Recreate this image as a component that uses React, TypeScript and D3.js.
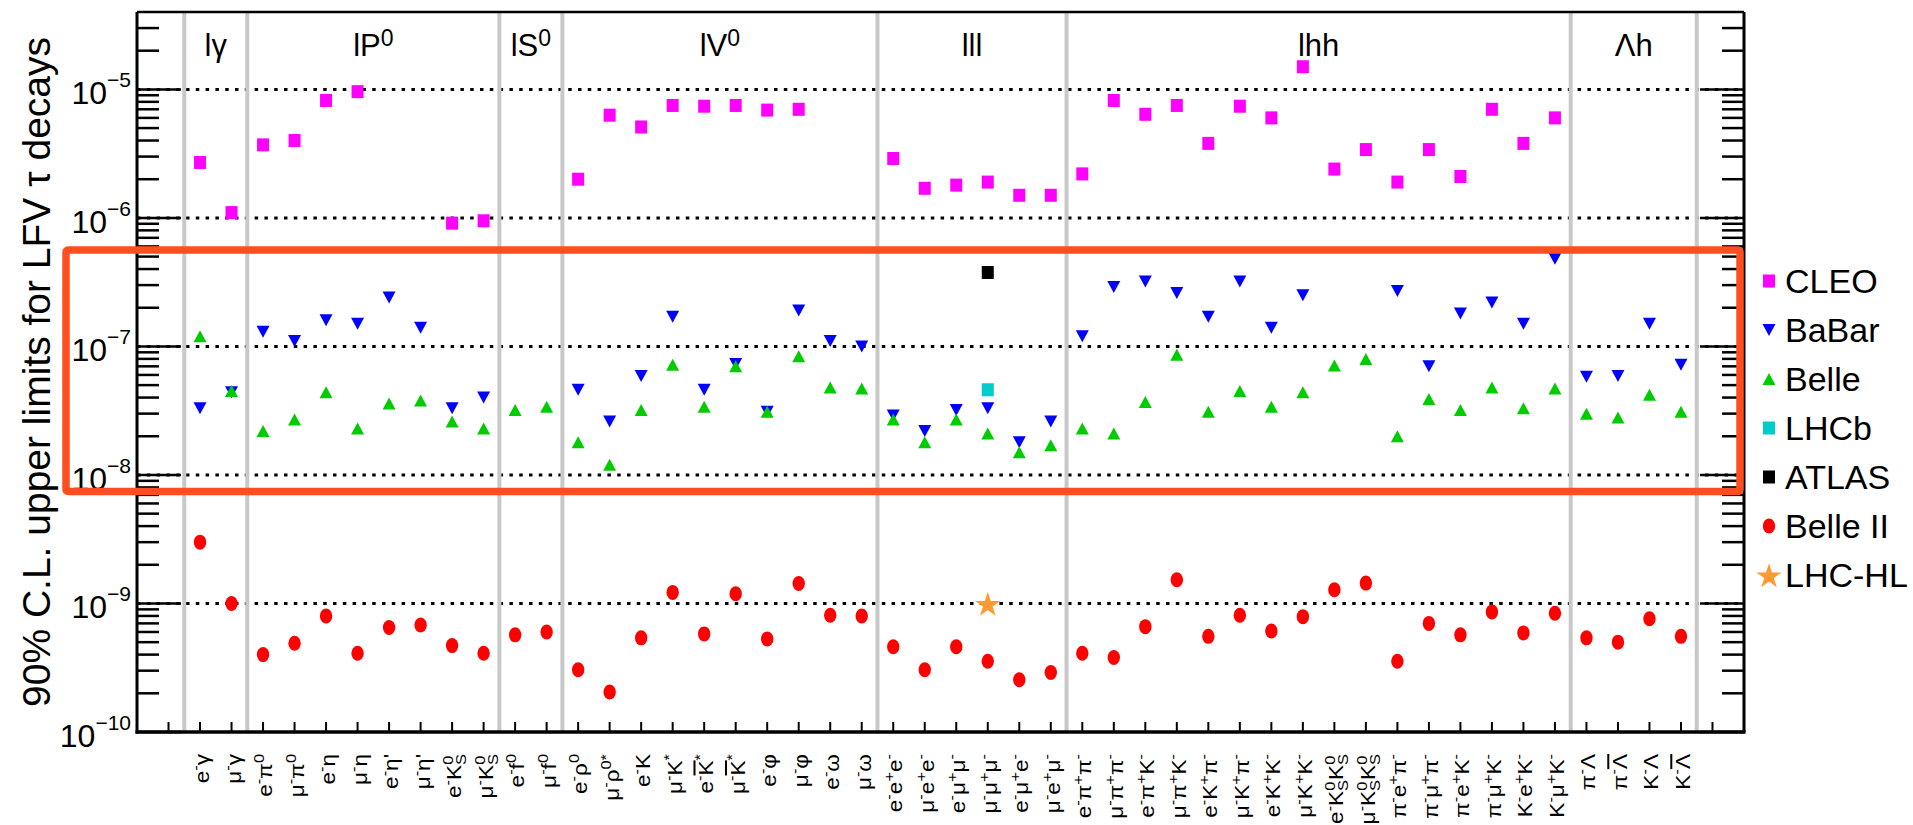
import React from 'react';
import * as d3 from 'd3';

// ---------- data ----------
const categories = [
  'e^{-}γ', 'μ^{-}γ',
  'e^{-}π^{0}', 'μ^{-}π^{0}', 'e^{-}η', 'μ^{-}η', "e^{-}η'", "μ^{-}η'", 'e^{-}K^{0}_{S}', 'μ^{-}K^{0}_{S}',
  'e^{-}f^{0}', 'μ^{-}f^{0}',
  'e^{-}ρ^{0}', 'μ^{-}ρ^{0*}', 'e^{-}K', 'μ^{-}K^{*}', 'e^{-}#bar{K}^{*}', 'μ^{-}#bar{K}^{*}', 'e^{-}φ', 'μ^{-}φ', 'e^{-}ω', 'μ^{-}ω',
  'e^{-}e^{+}e^{-}', 'μ^{-}e^{+}e^{-}', 'e^{-}μ^{+}μ^{-}', 'μ^{-}μ^{+}μ^{-}', 'e^{-}μ^{+}e^{-}', 'μ^{-}e^{+}μ^{-}',
  'e^{-}π^{+}π^{-}', 'μ^{-}π^{+}π^{-}', 'e^{-}π^{+}K^{-}', 'μ^{-}π^{+}K^{-}', 'e^{-}K^{+}π^{-}', 'μ^{-}K^{+}π^{-}',
  'e^{-}K^{+}K^{-}', 'μ^{-}K^{+}K^{-}', 'e^{-}K^{0}_{S}K^{0}_{S}', 'μ^{-}K^{0}_{S}K^{0}_{S}', 'π^{-}e^{+}π^{-}', 'π^{-}μ^{+}π^{-}',
  'π^{-}e^{+}K^{-}', 'π^{-}μ^{+}K^{-}', 'K^{-}e^{+}K^{-}', 'K^{-}μ^{+}K^{-}',
  'π^{-}Λ', 'π^{-}#bar{Λ}', 'K^{-}Λ', 'K^{-}#bar{Λ}',
];

const groupNames = ['lγ', 'lP^{0}', 'lS^{0}', 'lV^{0}', 'lll', 'lhh', 'Λh'];
const groupBounds = [1.5, 3.5, 11.5, 13.5, 23.5, 29.5, 45.5, 49.5];

const cleo = [
  2.7e-6, 1.1e-6,
  3.7e-6, 4.0e-6, 8.2e-6, 9.6e-6, null, null, 9.1e-7, 9.5e-7,
  null, null,
  2.0e-6, 6.3e-6, 5.1e-6, 7.5e-6, 7.4e-6, 7.5e-6, 6.9e-6, 7.0e-6, null, null,
  2.9e-6, 1.7e-6, 1.8e-6, 1.9e-6, 1.5e-6, 1.5e-6,
  2.2e-6, 8.2e-6, 6.4e-6, 7.5e-6, 3.8e-6, 7.4e-6, 6.0e-6, 1.5e-5, 2.4e-6, 3.4e-6, 1.9e-6, 3.4e-6, 2.1e-6, 7.0e-6, 3.8e-6, 6.0e-6,
  null, null, null, null,
];
const babar = [
  3.3e-8, 4.4e-8,
  1.3e-7, 1.1e-7, 1.6e-7, 1.5e-7, 2.4e-7, 1.4e-7, 3.3e-8, 4.0e-8,
  null, null,
  4.6e-8, 2.6e-8, 5.9e-8, 1.7e-7, 4.6e-8, 7.3e-8, 3.1e-8, 1.9e-7, 1.1e-7, 1.0e-7,
  2.9e-8, 2.2e-8, 3.2e-8, 3.3e-8, 1.8e-8, 2.6e-8,
  1.2e-7, 2.9e-7, 3.2e-7, 2.6e-7, 1.7e-7, 3.2e-7, 1.4e-7, 2.5e-7, null, null, 2.7e-7, 7.0e-8, 1.8e-7, 2.2e-7, 1.5e-7, 4.8e-7,
  5.8e-8, 5.9e-8, 1.5e-7, 7.2e-8,
];
const belle = [
  1.2e-7, 4.5e-8,
  2.2e-8, 2.7e-8, 4.4e-8, 2.3e-8, 3.6e-8, 3.8e-8, 2.6e-8, 2.3e-8,
  3.2e-8, 3.4e-8,
  1.8e-8, 1.2e-8, 3.2e-8, 7.2e-8, 3.4e-8, 7.0e-8, 3.1e-8, 8.4e-8, 4.8e-8, 4.7e-8,
  2.7e-8, 1.8e-8, 2.7e-8, 2.1e-8, 1.5e-8, 1.7e-8,
  2.3e-8, 2.1e-8, 3.7e-8, 8.6e-8, 3.1e-8, 4.5e-8, 3.4e-8, 4.4e-8, 7.1e-8, 8.0e-8, 2.0e-8, 3.9e-8, 3.2e-8, 4.8e-8, 3.3e-8, 4.7e-8,
  3.0e-8, 2.8e-8, 4.2e-8, 3.1e-8,
];
const lhcb = [
  null, null, null, null, null, null, null, null, null, null, null, null,
  null, null, null, null, null, null, null, null, null, null,
  null, null, null, 4.6e-8, null, null,
  null, null, null, null, null, null, null, null, null, null, null, null, null, null, null, null,
  null, null, null, null,
];
const atlas = [
  null, null, null, null, null, null, null, null, null, null, null, null,
  null, null, null, null, null, null, null, null, null, null,
  null, null, null, 3.76e-7, null, null,
  null, null, null, null, null, null, null, null, null, null, null, null, null, null, null, null,
  null, null, null, null,
];
const belle2 = [
  3.0e-9, 1.0e-9,
  4.0e-10, 4.9e-10, 8.0e-10, 4.1e-10, 6.5e-10, 6.8e-10, 4.7e-10, 4.1e-10,
  5.7e-10, 6.0e-10,
  3.05e-10, 2.05e-10, 5.4e-10, 1.22e-9, 5.8e-10, 1.19e-9, 5.3e-10, 1.43e-9, 8.1e-10, 8.0e-10,
  4.6e-10, 3.05e-10, 4.6e-10, 3.55e-10, 2.55e-10, 2.9e-10,
  4.1e-10, 3.8e-10, 6.6e-10, 1.53e-9, 5.55e-10, 8.1e-10, 6.1e-10, 7.9e-10, 1.28e-9, 1.44e-9, 3.55e-10, 7.0e-10, 5.7e-10, 8.6e-10, 5.9e-10, 8.4e-10,
  5.4e-10, 5.0e-10, 7.6e-10, 5.55e-10,
];
const lhchl = [
  null, null, null, null, null, null, null, null, null, null, null, null,
  null, null, null, null, null, null, null, null, null, null,
  null, null, null, 1.0e-9, null, null,
  null, null, null, null, null, null, null, null, null, null, null, null, null, null, null, null,
  null, null, null, null,
];

const legendLabels = ['CLEO', 'BaBar', 'Belle', 'LHCb', 'ATLAS', 'Belle II', 'LHC-HL'];
const yDecades = [-10, -9, -8, -7, -6, -5];
const yGridDecades = [-9, -8, -7, -6, -5];
const yTitle = '90% C.L. upper limits for LFV  τ  decays';

// ---------- layout ----------
const W = 1913, H = 825;
const L = 137, R = 1744, T = 12, B = 732;
const x = d3.scaleLinear().domain([0, 51]).range([L, R]);
const y = d3.scaleLog().domain([1e-10, 4e-5]).range([B, T]);
const FONT = "'Liberation Sans', Arial, Helvetica, sans-serif";

type Seg = { t: string; k: 'n' | 'p' | 'b'; bar?: boolean; back?: number };
function parse(s: string): Seg[] {
  const segs: Seg[] = [];
  let i = 0, buf = '';
  const flush = () => { if (buf) { segs.push({ t: buf, k: 'n' }); buf = ''; } };
  while (i < s.length) {
    const c = s[i];
    if ((c === '^' || c === '_') && s[i + 1] === '{') {
      flush();
      const end = s.indexOf('}', i + 2);
      const t = s.slice(i + 2, end);
      const prev = segs[segs.length - 1];
      const back = c === '_' && prev && prev.k === 'p' ? prev.t.length : 0;
      segs.push({ t, k: c === '^' ? 'p' : 'b', back });
      i = end + 1;
    } else if (s.startsWith('#bar{', i)) {
      flush();
      const end = s.indexOf('}', i + 5);
      segs.push({ t: s.slice(i + 5, end), k: 'n', bar: true });
      i = end + 1;
    } else { buf += c; i++; }
  }
  flush();
  return segs;
}

function rich(s: string, size: number, supSize: number, supUp: number, subDown: number) {
  const segs = parse(s);
  let cur = 0;
  return segs.map((sg, j) => {
    const target = sg.k === 'p' ? -supUp : sg.k === 'b' ? subDown : 0;
    const dy = target - cur;
    cur = target;
    const dx = sg.back ? -sg.back * supSize * 0.56 : 0;
    return (
      <tspan key={j} dy={dy || undefined} dx={dx || undefined}
        fontSize={sg.k === 'n' ? size : supSize}
        style={sg.bar ? { textDecoration: 'overline' } : undefined}>{sg.t}</tspan>
    );
  });
}

// marker shapes
const SQ_W = 12, SQ_H = 13;
function Marker({ kind, cx, cy }: { kind: string; cx: number; cy: number }) {
  if (kind === 'CLEO') return <rect x={cx - SQ_W / 2} y={cy - SQ_H / 2} width={SQ_W} height={SQ_H} fill="#ff00ff" />;
  if (kind === 'LHCb') return <rect x={cx - SQ_W / 2} y={cy - SQ_H / 2} width={SQ_W} height={SQ_H} fill="#00cccc" />;
  if (kind === 'ATLAS') return <rect x={cx - SQ_W / 2} y={cy - SQ_H / 2} width={SQ_W} height={SQ_H} fill="#000000" />;
  if (kind === 'BaBar') return <path d={`M${cx - 6.5},${cy - 6}L${cx + 6.5},${cy - 6}L${cx},${cy + 6}Z`} fill="#0000ff" />;
  if (kind === 'Belle') return <path d={`M${cx - 6.5},${cy + 6}L${cx + 6.5},${cy + 6}L${cx},${cy - 6}Z`} fill="#00cc00" />;
  if (kind === 'Belle II') return <ellipse cx={cx} cy={cy} rx={6.2} ry={7.5} fill="#ff0000" />;
  const star = d3.symbol().type(d3.symbolStar).size(196)();
  return <path d={star || ''} transform={`translate(${cx},${cy + 1.5})`} fill="#ff9933" />;
}

const series: { name: string; vals: (number | null)[] }[] = [
  { name: 'CLEO', vals: cleo },
  { name: 'BaBar', vals: babar },
  { name: 'Belle', vals: belle },
  { name: 'LHCb', vals: lhcb },
  { name: 'ATLAS', vals: atlas },
  { name: 'Belle II', vals: belle2 },
  { name: 'LHC-HL', vals: lhchl },
];

export default function App() {
  const minor: number[] = [];
  for (let e = -10; e <= -5; e++) for (let m = 2; m <= 9; m++) {
    const v = m * Math.pow(10, e);
    if (v < 4e-5 - 1e-12) minor.push(v);
  }
  const xTicks = d3.range(1, 51);

  return (
    <svg width={W} height={H} style={{ position: 'absolute', left: 0, top: 0, background: '#fff' }}
      fontFamily={FONT}>
      <rect x={0} y={0} width={W} height={H} fill="#fff" />
      {yGridDecades.map((e) => (
        <line key={'g' + e} x1={L} x2={R} y1={y(Math.pow(10, e))} y2={y(Math.pow(10, e))}
          stroke="#000" strokeWidth={3} strokeDasharray="3.5 6.3" />
      ))}
      {groupBounds.map((b) => (
        <line key={'s' + b} x1={x(b)} x2={x(b)} y1={T} y2={B} stroke="#c8c8c8" strokeWidth={4} />
      ))}
      {yDecades.map((e) => {
        const yy = y(Math.pow(10, e));
        return (
          <g key={'t' + e}>
            <line x1={L} x2={L + 44} y1={yy} y2={yy} stroke="#000" strokeWidth={2.5} />
            <line x1={R - 44} x2={R} y1={yy} y2={yy} stroke="#000" strokeWidth={2.5} />
          </g>
        );
      })}
      {minor.map((v, i) => (
        <g key={'m' + i}>
          <line x1={L} x2={L + 22} y1={y(v)} y2={y(v)} stroke="#000" strokeWidth={2.5} />
          <line x1={R - 22} x2={R} y1={y(v)} y2={y(v)} stroke="#000" strokeWidth={2.5} />
        </g>
      ))}
      {xTicks.map((t) => (
        <line key={'x' + t} x1={x(t)} x2={x(t)} y1={B} y2={B - 10} stroke="#000" strokeWidth={2} />
      ))}
      <line x1={L} x2={R} y1={T} y2={T} stroke="#000" strokeWidth={2.5} />
      <line x1={R} x2={R} y1={T} y2={B} stroke="#000" strokeWidth={3} />
      <line x1={L} x2={L} y1={T} y2={B + 1.5} stroke="#000" strokeWidth={3} />
      <line x1={L - 1.5} x2={R + 1.5} y1={B} y2={B} stroke="#000" strokeWidth={3.5} />

      {yDecades.map((e) => {
        const yy = y(Math.pow(10, e));
        return (
          <text key={'yl' + e} x={131} y={yy + 15} textAnchor="end" fontSize={32} fill="#000">
            <tspan>10</tspan>
            <tspan dy={-17} fontSize={21}>{'−' + Math.abs(e)}</tspan>
          </text>
        );
      })}

      <text transform={`translate(50,${(T + B) / 2}) rotate(-90)`} textAnchor="middle" fontSize={39} fill="#000">
        {yTitle}
      </text>

      {groupNames.map((g, i) => (
        <text key={'gn' + i} x={x((groupBounds[i] + groupBounds[i + 1]) / 2)} y={56} textAnchor="middle"
          fontSize={31} fill="#000">
          {rich(g, 31, 23, 10, 0)}
        </text>
      ))}

      {categories.map((c, i) => (
        <text key={'xl' + i} transform={`translate(${x(i + 2) + 9},754) rotate(-90) scale(1.13,1)`} textAnchor="end"
          fontSize={20} fill="#000">
          {rich(c, 20, 14.5, 8, 5)}
        </text>
      ))}

      {series.map((s) => (
        <g key={s.name}>
          {s.vals.map((v, i) => v == null ? null : (
            <Marker key={i} kind={s.name} cx={x(i + 2)} cy={y(v)} />
          ))}
        </g>
      ))}

      <rect x={66} y={250} width={1740 - 66} height={491.5 - 250} fill="none" stroke="#ff4f20"
        strokeWidth={7.5} rx={2} />

      {legendLabels.map((lab, i) => {
        const cy = 281 + i * 49;
        return (
          <g key={'lg' + i}>
            <Marker kind={lab} cx={1769} cy={cy} />
            <text x={1785} y={cy + 12} fontSize={34} fill="#000">{lab}</text>
          </g>
        );
      })}
    </svg>
  );
}
